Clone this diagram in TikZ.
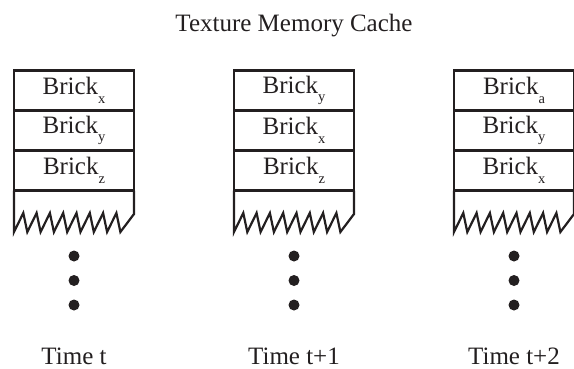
\documentclass[tikz,border=0pt]{standalone}
\usepackage{fontspec}
\setmainfont{Liberation Serif}
\definecolor{ink}{HTML}{231F20}
% brick label with a lowered small index
\newcommand\brick[1]{Brick\raisebox{-0.34em}{\fontsize{14.5}{14.5}\selectfont #1}}
\tikzset{
  cell/.style={draw=ink, line width=2.2pt, minimum width=120pt, minimum height=40pt,
    inner sep=0pt, outer sep=0pt, anchor=north west, text=ink,
    font=\fontsize{25}{29}\selectfont},
  outline/.style={draw=ink, line width=2.2pt, line join=miter},
  dotmark/.style={circle, fill=ink, minimum size=11pt, inner sep=0pt},
  label/.style={text=ink, anchor=base, font=\fontsize{25}{29}\selectfont}
}
\begin{document}
\begin{tikzpicture}[x=1pt, y=-1pt]
\useasboundingbox (0,0) rectangle (574,368);

\node[label] (title) at (294,31) {Texture Memory Cache};

\foreach \c/\a/\b/\d/\t in {0/x/y/z/{Time t}, 1/y/x/z/{Time t+1}, 2/a/y/x/{Time t+2}} {
  \pgfmathsetmacro{\xo}{14+220*\c}
  \node[cell] (c\c-1) at (\xo,70.5) {\brick{\a}};
  \node[cell] (c\c-2) at (c\c-1.south west) {\brick{\b}};
  \node[cell] (c\c-3) at (c\c-2.south west) {\brick{\d}};
  % open bottom of the cache with a torn edge
  \coordinate (c\c-bl) at ([yshift=-41.5pt]c\c-3.south west);
  \coordinate (c\c-br) at ([yshift=-23.5pt]c\c-3.south east);
  \draw[outline] (c\c-3.south west) -- (c\c-bl)
    \foreach \i in {1,...,8} { -- ++(9.3,-19) -- ++(4,19) }
    -- (c\c-br) -- (c\c-3.south east);
  \node[dotmark] (d\c-1) at (\xo+60,256) {};
  \node[dotmark] (d\c-2) at (\xo+60,280.5) {};
  \node[dotmark] (d\c-3) at (\xo+60,305) {};
  \node[label] (time\c) at (\xo+60,364) {\t};
}
\end{tikzpicture}
\end{document}
